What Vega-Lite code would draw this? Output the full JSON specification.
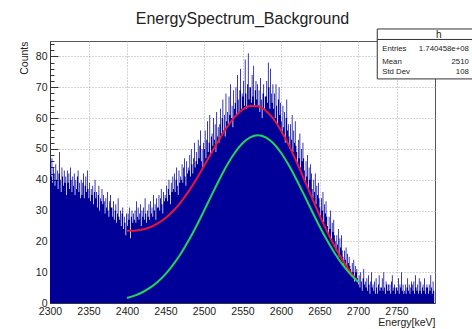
{
  "$schema": "https://vega.github.io/schema/vega-lite/v6.json",
  "width": 385,
  "height": 262,
  "autosize": {"type": "none"},
  "padding": {"left": 50, "top": 41, "right": 37, "bottom": 26},
  "title": {
    "text": "EnergySpectrum_Background",
    "font": "Liberation Sans",
    "fontSize": 16,
    "fontWeight": "normal",
    "color": "#222222",
    "anchor": "middle",
    "frame": "group",
    "offset": 1
  },
  "config": {
    "font": "Liberation Sans",
    "view": {"stroke": "#555555", "strokeWidth": 1},
    "axis": {
      "labelFont": "Liberation Sans",
      "titleFont": "Liberation Sans",
      "labelColor": "#222222",
      "titleColor": "#222222",
      "titleFontWeight": "normal",
      "labelFontSize": 10.5,
      "titleFontSize": 10.5,
      "domainColor": "#333333",
      "tickColor": "#333333",
      "gridColor": "#a8a8a8",
      "gridDash": [1, 2],
      "gridWidth": 1,
      "tickSize": -8,
      "labelPadding": 11,
      "labelOverlap": false,
      "titleAnchor": "end",
      "grid": true
    },
    "axisX": {"labelFlush": false, "titlePadding": 1, "format": "d"},
    "axisY": {"titlePadding": 6}
  },
  "datasets": {
    "spectrum": [
      {"keV":2300,"counts":46},{"keV":2301,"counts":41},{"keV":2302,"counts":47},{"keV":2303,"counts":39},{"keV":2304,"counts":44},{"keV":2305,"counts":42},{"keV":2306,"counts":38},{"keV":2307,"counts":45},{"keV":2308,"counts":40},{"keV":2309,"counts":43},
      {"keV":2310,"counts":37},{"keV":2311,"counts":42},{"keV":2312,"counts":49},{"keV":2313,"counts":40},{"keV":2314,"counts":36},{"keV":2315,"counts":44},{"keV":2316,"counts":41},{"keV":2317,"counts":38},{"keV":2318,"counts":43},{"keV":2319,"counts":39},
      {"keV":2320,"counts":41},{"keV":2321,"counts":35},{"keV":2322,"counts":43},{"keV":2323,"counts":39},{"keV":2324,"counts":42},{"keV":2325,"counts":37},{"keV":2326,"counts":44},{"keV":2327,"counts":40},{"keV":2328,"counts":36},{"keV":2329,"counts":41},
      {"keV":2330,"counts":38},{"keV":2331,"counts":42},{"keV":2332,"counts":35},{"keV":2333,"counts":40},{"keV":2334,"counts":37},{"keV":2335,"counts":41},{"keV":2336,"counts":43},{"keV":2337,"counts":36},{"keV":2338,"counts":39},{"keV":2339,"counts":34},
      {"keV":2340,"counts":40},{"keV":2341,"counts":35},{"keV":2342,"counts":39},{"keV":2343,"counts":42},{"keV":2344,"counts":34},{"keV":2345,"counts":38},{"keV":2346,"counts":41},{"keV":2347,"counts":36},{"keV":2348,"counts":43},{"keV":2349,"counts":37},
      {"keV":2350,"counts":34},{"keV":2351,"counts":39},{"keV":2352,"counts":33},{"keV":2353,"counts":37},{"keV":2354,"counts":35},{"keV":2355,"counts":38},{"keV":2356,"counts":32},{"keV":2357,"counts":36},{"keV":2358,"counts":40},{"keV":2359,"counts":34},
      {"keV":2360,"counts":36},{"keV":2361,"counts":31},{"keV":2362,"counts":35},{"keV":2363,"counts":38},{"keV":2364,"counts":30},{"keV":2365,"counts":34},{"keV":2366,"counts":33},{"keV":2367,"counts":37},{"keV":2368,"counts":32},{"keV":2369,"counts":35},
      {"keV":2370,"counts":33},{"keV":2371,"counts":29},{"keV":2372,"counts":34},{"keV":2373,"counts":31},{"keV":2374,"counts":36},{"keV":2375,"counts":30},{"keV":2376,"counts":28},{"keV":2377,"counts":33},{"keV":2378,"counts":35},{"keV":2379,"counts":31},
      {"keV":2380,"counts":31},{"keV":2381,"counts":28},{"keV":2382,"counts":33},{"keV":2383,"counts":27},{"keV":2384,"counts":30},{"keV":2385,"counts":32},{"keV":2386,"counts":26},{"keV":2387,"counts":29},{"keV":2388,"counts":34},{"keV":2389,"counts":28},
      {"keV":2390,"counts":27},{"keV":2391,"counts":30},{"keV":2392,"counts":25},{"keV":2393,"counts":29},{"keV":2394,"counts":31},{"keV":2395,"counts":24},{"keV":2396,"counts":28},{"keV":2397,"counts":26},{"keV":2398,"counts":22},{"keV":2399,"counts":29},
      {"keV":2400,"counts":25},{"keV":2401,"counts":29},{"keV":2402,"counts":27},{"keV":2403,"counts":31},{"keV":2404,"counts":21},{"keV":2405,"counts":28},{"keV":2406,"counts":30},{"keV":2407,"counts":26},{"keV":2408,"counts":29},{"keV":2409,"counts":27},
      {"keV":2410,"counts":30},{"keV":2411,"counts":26},{"keV":2412,"counts":33},{"keV":2413,"counts":28},{"keV":2414,"counts":31},{"keV":2415,"counts":27},{"keV":2416,"counts":29},{"keV":2417,"counts":32},{"keV":2418,"counts":25},{"keV":2419,"counts":30},
      {"keV":2420,"counts":28},{"keV":2421,"counts":31},{"keV":2422,"counts":27},{"keV":2423,"counts":34},{"keV":2424,"counts":29},{"keV":2425,"counts":26},{"keV":2426,"counts":30},{"keV":2427,"counts":28},{"keV":2428,"counts":32},{"keV":2429,"counts":27},
      {"keV":2430,"counts":33},{"keV":2431,"counts":29},{"keV":2432,"counts":31},{"keV":2433,"counts":28},{"keV":2434,"counts":35},{"keV":2435,"counts":30},{"keV":2436,"counts":32},{"keV":2437,"counts":27},{"keV":2438,"counts":34},{"keV":2439,"counts":31},
      {"keV":2440,"counts":31},{"keV":2441,"counts":35},{"keV":2442,"counts":30},{"keV":2443,"counts":34},{"keV":2444,"counts":37},{"keV":2445,"counts":32},{"keV":2446,"counts":29},{"keV":2447,"counts":36},{"keV":2448,"counts":33},{"keV":2449,"counts":35},
      {"keV":2450,"counts":34},{"keV":2451,"counts":38},{"keV":2452,"counts":33},{"keV":2453,"counts":37},{"keV":2454,"counts":40},{"keV":2455,"counts":35},{"keV":2456,"counts":32},{"keV":2457,"counts":39},{"keV":2458,"counts":36},{"keV":2459,"counts":41},
      {"keV":2460,"counts":37},{"keV":2461,"counts":42},{"keV":2462,"counts":36},{"keV":2463,"counts":40},{"keV":2464,"counts":44},{"keV":2465,"counts":38},{"keV":2466,"counts":35},{"keV":2467,"counts":43},{"keV":2468,"counts":39},{"keV":2469,"counts":41},
      {"keV":2470,"counts":40},{"keV":2471,"counts":45},{"keV":2472,"counts":39},{"keV":2473,"counts":44},{"keV":2474,"counts":47},{"keV":2475,"counts":41},{"keV":2476,"counts":38},{"keV":2477,"counts":46},{"keV":2478,"counts":42},{"keV":2479,"counts":44},
      {"keV":2480,"counts":43},{"keV":2481,"counts":48},{"keV":2482,"counts":41},{"keV":2483,"counts":50},{"keV":2484,"counts":45},{"keV":2485,"counts":42},{"keV":2486,"counts":47},{"keV":2487,"counts":52},{"keV":2488,"counts":44},{"keV":2489,"counts":46},
      {"keV":2490,"counts":49},{"keV":2491,"counts":45},{"keV":2492,"counts":53},{"keV":2493,"counts":47},{"keV":2494,"counts":51},{"keV":2495,"counts":56},{"keV":2496,"counts":46},{"keV":2497,"counts":50},{"keV":2498,"counts":44},{"keV":2499,"counts":52},
      {"keV":2500,"counts":50},{"keV":2501,"counts":56},{"keV":2502,"counts":47},{"keV":2503,"counts":53},{"keV":2504,"counts":59},{"keV":2505,"counts":49},{"keV":2506,"counts":52},{"keV":2507,"counts":61},{"keV":2508,"counts":48},{"keV":2509,"counts":54},
      {"keV":2510,"counts":55},{"keV":2511,"counts":51},{"keV":2512,"counts":60},{"keV":2513,"counts":53},{"keV":2514,"counts":58},{"keV":2515,"counts":49},{"keV":2516,"counts":62},{"keV":2517,"counts":54},{"keV":2518,"counts":57},{"keV":2519,"counts":52},
      {"keV":2520,"counts":58},{"keV":2521,"counts":63},{"keV":2522,"counts":55},{"keV":2523,"counts":60},{"keV":2524,"counts":66},{"keV":2525,"counts":56},{"keV":2526,"counts":61},{"keV":2527,"counts":54},{"keV":2528,"counts":68},{"keV":2529,"counts":59},
      {"keV":2530,"counts":62},{"keV":2531,"counts":58},{"keV":2532,"counts":67},{"keV":2533,"counts":61},{"keV":2534,"counts":71},{"keV":2535,"counts":60},{"keV":2536,"counts":64},{"keV":2537,"counts":57},{"keV":2538,"counts":69},{"keV":2539,"counts":63},
      {"keV":2540,"counts":65},{"keV":2541,"counts":70},{"keV":2542,"counts":61},{"keV":2543,"counts":74},{"keV":2544,"counts":66},{"keV":2545,"counts":62},{"keV":2546,"counts":69},{"keV":2547,"counts":76},{"keV":2548,"counts":63},{"keV":2549,"counts":68},
      {"keV":2550,"counts":67},{"keV":2551,"counts":72},{"keV":2552,"counts":64},{"keV":2553,"counts":79},{"keV":2554,"counts":68},{"keV":2555,"counts":63},{"keV":2556,"counts":71},{"keV":2557,"counts":81},{"keV":2558,"counts":66},{"keV":2559,"counts":70},
      {"keV":2560,"counts":70},{"keV":2561,"counts":65},{"keV":2562,"counts":74},{"keV":2563,"counts":67},{"keV":2564,"counts":77},{"keV":2565,"counts":64},{"keV":2566,"counts":69},{"keV":2567,"counts":72},{"keV":2568,"counts":66},{"keV":2569,"counts":71},
      {"keV":2570,"counts":64},{"keV":2571,"counts":69},{"keV":2572,"counts":62},{"keV":2573,"counts":73},{"keV":2574,"counts":66},{"keV":2575,"counts":60},{"keV":2576,"counts":68},{"keV":2577,"counts":71},{"keV":2578,"counts":63},{"keV":2579,"counts":67},
      {"keV":2580,"counts":67},{"keV":2581,"counts":72},{"keV":2582,"counts":65},{"keV":2583,"counts":78},{"keV":2584,"counts":70},{"keV":2585,"counts":63},{"keV":2586,"counts":76},{"keV":2587,"counts":68},{"keV":2588,"counts":65},{"keV":2589,"counts":71},
      {"keV":2590,"counts":63},{"keV":2591,"counts":68},{"keV":2592,"counts":60},{"keV":2593,"counts":71},{"keV":2594,"counts":64},{"keV":2595,"counts":58},{"keV":2596,"counts":66},{"keV":2597,"counts":70},{"keV":2598,"counts":61},{"keV":2599,"counts":65},
      {"keV":2600,"counts":59},{"keV":2601,"counts":55},{"keV":2602,"counts":64},{"keV":2603,"counts":57},{"keV":2604,"counts":62},{"keV":2605,"counts":52},{"keV":2606,"counts":60},{"keV":2607,"counts":66},{"keV":2608,"counts":56},{"keV":2609,"counts":58},
      {"keV":2610,"counts":54},{"keV":2611,"counts":50},{"keV":2612,"counts":58},{"keV":2613,"counts":53},{"keV":2614,"counts":61},{"keV":2615,"counts":49},{"keV":2616,"counts":56},{"keV":2617,"counts":52},{"keV":2618,"counts":59},{"keV":2619,"counts":51},
      {"keV":2620,"counts":49},{"keV":2621,"counts":45},{"keV":2622,"counts":53},{"keV":2623,"counts":47},{"keV":2624,"counts":55},{"keV":2625,"counts":44},{"keV":2626,"counts":50},{"keV":2627,"counts":46},{"keV":2628,"counts":52},{"keV":2629,"counts":47},
      {"keV":2630,"counts":43},{"keV":2631,"counts":39},{"keV":2632,"counts":46},{"keV":2633,"counts":41},{"keV":2634,"counts":48},{"keV":2635,"counts":37},{"keV":2636,"counts":44},{"keV":2637,"counts":40},{"keV":2638,"counts":45},{"keV":2639,"counts":42},
      {"keV":2640,"counts":37},{"keV":2641,"counts":34},{"keV":2642,"counts":40},{"keV":2643,"counts":36},{"keV":2644,"counts":42},{"keV":2645,"counts":32},{"keV":2646,"counts":38},{"keV":2647,"counts":35},{"keV":2648,"counts":39},{"keV":2649,"counts":34},
      {"keV":2650,"counts":31},{"keV":2651,"counts":28},{"keV":2652,"counts":34},{"keV":2653,"counts":30},{"keV":2654,"counts":36},{"keV":2655,"counts":26},{"keV":2656,"counts":32},{"keV":2657,"counts":29},{"keV":2658,"counts":33},{"keV":2659,"counts":28},
      {"keV":2660,"counts":25},{"keV":2661,"counts":22},{"keV":2662,"counts":28},{"keV":2663,"counts":24},{"keV":2664,"counts":30},{"keV":2665,"counts":20},{"keV":2666,"counts":26},{"keV":2667,"counts":23},{"keV":2668,"counts":27},{"keV":2669,"counts":22},
      {"keV":2670,"counts":20},{"keV":2671,"counts":17},{"keV":2672,"counts":22},{"keV":2673,"counts":19},{"keV":2674,"counts":24},{"keV":2675,"counts":15},{"keV":2676,"counts":21},{"keV":2677,"counts":18},{"keV":2678,"counts":22},{"keV":2679,"counts":17},
      {"keV":2680,"counts":15},{"keV":2681,"counts":12},{"keV":2682,"counts":17},{"keV":2683,"counts":14},{"keV":2684,"counts":18},{"keV":2685,"counts":11},{"keV":2686,"counts":16},{"keV":2687,"counts":13},{"keV":2688,"counts":15},{"keV":2689,"counts":12},
      {"keV":2690,"counts":11},{"keV":2691,"counts":9},{"keV":2692,"counts":13},{"keV":2693,"counts":10},{"keV":2694,"counts":14},{"keV":2695,"counts":7},{"keV":2696,"counts":12},{"keV":2697,"counts":10},{"keV":2698,"counts":11},{"keV":2699,"counts":8},
      {"keV":2700,"counts":6},{"keV":2701,"counts":9},{"keV":2702,"counts":5},{"keV":2703,"counts":10},{"keV":2704,"counts":7},{"keV":2705,"counts":4},{"keV":2706,"counts":8},{"keV":2707,"counts":11},{"keV":2708,"counts":6},{"keV":2709,"counts":7},
      {"keV":2710,"counts":5},{"keV":2711,"counts":8},{"keV":2712,"counts":4},{"keV":2713,"counts":9},{"keV":2714,"counts":6},{"keV":2715,"counts":3},{"keV":2716,"counts":7},{"keV":2717,"counts":10},{"keV":2718,"counts":5},{"keV":2719,"counts":6},
      {"keV":2720,"counts":4},{"keV":2721,"counts":7},{"keV":2722,"counts":3},{"keV":2723,"counts":8},{"keV":2724,"counts":5},{"keV":2725,"counts":3},{"keV":2726,"counts":6},{"keV":2727,"counts":9},{"keV":2728,"counts":4},{"keV":2729,"counts":5},
      {"keV":2730,"counts":5},{"keV":2731,"counts":8},{"keV":2732,"counts":4},{"keV":2733,"counts":10},{"keV":2734,"counts":5},{"keV":2735,"counts":3},{"keV":2736,"counts":7},{"keV":2737,"counts":6},{"keV":2738,"counts":4},{"keV":2739,"counts":6},
      {"keV":2740,"counts":4},{"keV":2741,"counts":6},{"keV":2742,"counts":3},{"keV":2743,"counts":7},{"keV":2744,"counts":9},{"keV":2745,"counts":4},{"keV":2746,"counts":5},{"keV":2747,"counts":6},{"keV":2748,"counts":3},{"keV":2749,"counts":5},
      {"keV":2750,"counts":5},{"keV":2751,"counts":4},{"keV":2752,"counts":8},{"keV":2753,"counts":3},{"keV":2754,"counts":6},{"keV":2755,"counts":5},{"keV":2756,"counts":10},{"keV":2757,"counts":4},{"keV":2758,"counts":6},{"keV":2759,"counts":3},
      {"keV":2760,"counts":4},{"keV":2761,"counts":6},{"keV":2762,"counts":3},{"keV":2763,"counts":5},{"keV":2764,"counts":8},{"keV":2765,"counts":4},{"keV":2766,"counts":6},{"keV":2767,"counts":3},{"keV":2768,"counts":5},{"keV":2769,"counts":7},
      {"keV":2770,"counts":6},{"keV":2771,"counts":4},{"keV":2772,"counts":7},{"keV":2773,"counts":3},{"keV":2774,"counts":9},{"keV":2775,"counts":5},{"keV":2776,"counts":4},{"keV":2777,"counts":6},{"keV":2778,"counts":3},{"keV":2779,"counts":8},
      {"keV":2780,"counts":4},{"keV":2781,"counts":7},{"keV":2782,"counts":3},{"keV":2783,"counts":5},{"keV":2784,"counts":6},{"keV":2785,"counts":4},{"keV":2786,"counts":8},{"keV":2787,"counts":3},{"keV":2788,"counts":5},{"keV":2789,"counts":6},
      {"keV":2790,"counts":5},{"keV":2791,"counts":3},{"keV":2792,"counts":6},{"keV":2793,"counts":4},{"keV":2794,"counts":9},{"keV":2795,"counts":5},{"keV":2796,"counts":3},{"keV":2797,"counts":7},{"keV":2798,"counts":4},{"keV":2799,"counts":6}
    ],
    "fit": [
      {"keV":2400,"total":23.40,"gauss":1.60},{"keV":2410,"total":23.46,"gauss":2.39},{"keV":2420,"total":23.84,"gauss":3.49},
      {"keV":2430,"total":24.59,"gauss":4.97},{"keV":2440,"total":25.80,"gauss":6.91},{"keV":2450,"total":27.55,"gauss":9.38},
      {"keV":2460,"total":29.86,"gauss":12.42},{"keV":2470,"total":32.76,"gauss":16.05},{"keV":2480,"total":36.22,"gauss":20.24},
      {"keV":2490,"total":40.16,"gauss":24.90},{"keV":2500,"total":44.45,"gauss":29.92},{"keV":2510,"total":48.86,"gauss":35.06},
      {"keV":2520,"total":53.17,"gauss":40.09},{"keV":2530,"total":57.10,"gauss":44.75},{"keV":2540,"total":60.36,"gauss":48.74},
      {"keV":2550,"total":62.71,"gauss":51.81},{"keV":2560,"total":63.91,"gauss":53.74},{"keV":2570,"total":63.84,"gauss":54.40},
      {"keV":2580,"total":62.46,"gauss":53.74},{"keV":2590,"total":59.80,"gauss":51.81},{"keV":2600,"total":56.00,"gauss":48.74},
      {"keV":2610,"total":51.29,"gauss":44.75},{"keV":2620,"total":45.90,"gauss":40.09},{"keV":2630,"total":40.14,"gauss":35.06},
      {"keV":2640,"total":34.28,"gauss":29.92},{"keV":2650,"total":28.53,"gauss":24.90},{"keV":2660,"total":23.14,"gauss":20.24},
      {"keV":2670,"total":18.23,"gauss":16.05},{"keV":2680,"total":13.87,"gauss":12.42},{"keV":2690,"total":10.11,"gauss":9.38},
      {"keV":2700,"total":6.91,"gauss":6.91}
    ],
    "stats": [
      {"stat": "Entries", "value": "1.740458e+08"},
      {"stat": "Mean", "value": "2510"},
      {"stat": "Std Dev", "value": "108"}
    ],
    "header": [
      {"name": "h"}
    ]
  },
  "layer": [
    {
      "layer": [
        {
          "data": {"name": "spectrum"},
          "mark": {"type": "area", "interpolate": "step-after", "color": "#000099", "clip": true},
          "encoding": {
            "x": {
              "field": "keV", "type": "quantitative",
              "scale": {"domain": [2300, 2800], "nice": false, "zero": false},
              "axis": {"values": [2300, 2350, 2400, 2450, 2500, 2550, 2600, 2650, 2700, 2750], "title": "Energy[keV]"}
            },
            "y": {
              "field": "counts", "type": "quantitative",
              "scale": {"domain": [0, 85], "nice": false},
              "axis": {"values": [0, 10, 20, 30, 40, 50, 60, 70, 80], "title": "Counts"}
            }
          }
        },
        {
          "data": {"name": "fit"},
          "mark": {"type": "line", "color": "#e8163a", "strokeWidth": 2, "interpolate": "monotone"},
          "encoding": {
            "x": {"field": "keV", "type": "quantitative", "axis": {"values": [2300, 2350, 2400, 2450, 2500, 2550, 2600, 2650, 2700, 2750], "title": "Energy[keV]"}},
            "y": {"field": "total", "type": "quantitative", "axis": {"values": [0, 10, 20, 30, 40, 50, 60, 70, 80], "title": "Counts"}}
          }
        },
        {
          "data": {"name": "fit"},
          "mark": {"type": "line", "color": "#22d655", "strokeWidth": 2, "interpolate": "monotone"},
          "encoding": {
            "x": {"field": "keV", "type": "quantitative", "axis": {"values": [2300, 2350, 2400, 2450, 2500, 2550, 2600, 2650, 2700, 2750], "title": "Energy[keV]"}},
            "y": {"field": "gauss", "type": "quantitative", "axis": {"values": [0, 10, 20, 30, 40, 50, 60, 70, 80], "title": "Counts"}}
          }
        },
        {
          "data": {"name": "header"},
          "mark": {"type": "rect", "fill": "#ffffff", "stroke": "#333333", "strokeWidth": 1, "clip": false},
          "encoding": {
            "x": {"datum": 2725, "type": "quantitative", "axis": {"values": [2300, 2350, 2400, 2450, 2500, 2550, 2600, 2650, 2700, 2750], "title": "Energy[keV]"}},
            "x2": {"datum": 2870},
            "y": {"datum": 88.9, "type": "quantitative", "axis": {"values": [0, 10, 20, 30, 40, 50, 60, 70, 80], "title": "Counts"}},
            "y2": {"datum": 72.7}
          }
        },
        {
          "data": {"name": "header"},
          "mark": {"type": "rule", "stroke": "#333333", "strokeWidth": 1, "clip": false},
          "encoding": {
            "x": {"datum": 2725, "type": "quantitative", "axis": {"values": [2300, 2350, 2400, 2450, 2500, 2550, 2600, 2650, 2700, 2750], "title": "Energy[keV]"}},
            "x2": {"datum": 2870},
            "y": {"datum": 85.5, "type": "quantitative", "axis": {"values": [0, 10, 20, 30, 40, 50, 60, 70, 80], "title": "Counts"}}
          }
        },
        {
          "data": {"name": "header"},
          "mark": {"type": "text", "align": "center", "baseline": "middle", "fontSize": 10, "color": "#222222", "clip": false},
          "encoding": {
            "x": {"datum": 2805, "type": "quantitative", "axis": {"values": [2300, 2350, 2400, 2450, 2500, 2550, 2600, 2650, 2700, 2750], "title": "Energy[keV]"}},
            "y": {"datum": 87.1, "type": "quantitative", "axis": {"values": [0, 10, 20, 30, 40, 50, 60, 70, 80], "title": "Counts"}},
            "text": {"field": "name"}
          }
        },
        {
          "data": {"name": "stats"},
          "transform": [{"filter": "datum.stat === 'Entries'"}],
          "mark": {"type": "text", "align": "left", "baseline": "middle", "fontSize": 7.8, "color": "#222222", "clip": false},
          "encoding": {
            "x": {"datum": 2731.5, "type": "quantitative", "axis": {"values": [2300, 2350, 2400, 2450, 2500, 2550, 2600, 2650, 2700, 2750], "title": "Energy[keV]"}},
            "y": {"datum": 82.3, "type": "quantitative", "axis": {"values": [0, 10, 20, 30, 40, 50, 60, 70, 80], "title": "Counts"}},
            "text": {"field": "stat"}
          }
        },
        {
          "data": {"name": "stats"},
          "transform": [{"filter": "datum.stat === 'Entries'"}],
          "mark": {"type": "text", "align": "right", "baseline": "middle", "fontSize": 7.8, "color": "#222222", "clip": false},
          "encoding": {
            "x": {"datum": 2844, "type": "quantitative", "axis": {"values": [2300, 2350, 2400, 2450, 2500, 2550, 2600, 2650, 2700, 2750], "title": "Energy[keV]"}},
            "y": {"datum": 82.3, "type": "quantitative", "axis": {"values": [0, 10, 20, 30, 40, 50, 60, 70, 80], "title": "Counts"}},
            "text": {"field": "value"}
          }
        },
        {
          "data": {"name": "stats"},
          "transform": [{"filter": "datum.stat === 'Mean'"}],
          "mark": {"type": "text", "align": "left", "baseline": "middle", "fontSize": 7.8, "color": "#222222", "clip": false},
          "encoding": {
            "x": {"datum": 2731.5, "type": "quantitative", "axis": {"values": [2300, 2350, 2400, 2450, 2500, 2550, 2600, 2650, 2700, 2750], "title": "Energy[keV]"}},
            "y": {"datum": 78.3, "type": "quantitative", "axis": {"values": [0, 10, 20, 30, 40, 50, 60, 70, 80], "title": "Counts"}},
            "text": {"field": "stat"}
          }
        },
        {
          "data": {"name": "stats"},
          "transform": [{"filter": "datum.stat === 'Mean'"}],
          "mark": {"type": "text", "align": "right", "baseline": "middle", "fontSize": 7.8, "color": "#222222", "clip": false},
          "encoding": {
            "x": {"datum": 2844, "type": "quantitative", "axis": {"values": [2300, 2350, 2400, 2450, 2500, 2550, 2600, 2650, 2700, 2750], "title": "Energy[keV]"}},
            "y": {"datum": 78.3, "type": "quantitative", "axis": {"values": [0, 10, 20, 30, 40, 50, 60, 70, 80], "title": "Counts"}},
            "text": {"field": "value"}
          }
        },
        {
          "data": {"name": "stats"},
          "transform": [{"filter": "datum.stat === 'Std Dev'"}],
          "mark": {"type": "text", "align": "left", "baseline": "middle", "fontSize": 7.8, "color": "#222222", "clip": false},
          "encoding": {
            "x": {"datum": 2731.5, "type": "quantitative", "axis": {"values": [2300, 2350, 2400, 2450, 2500, 2550, 2600, 2650, 2700, 2750], "title": "Energy[keV]"}},
            "y": {"datum": 74.9, "type": "quantitative", "axis": {"values": [0, 10, 20, 30, 40, 50, 60, 70, 80], "title": "Counts"}},
            "text": {"field": "stat"}
          }
        },
        {
          "data": {"name": "stats"},
          "transform": [{"filter": "datum.stat === 'Std Dev'"}],
          "mark": {"type": "text", "align": "right", "baseline": "middle", "fontSize": 7.8, "color": "#222222", "clip": false},
          "encoding": {
            "x": {"datum": 2844, "type": "quantitative", "axis": {"values": [2300, 2350, 2400, 2450, 2500, 2550, 2600, 2650, 2700, 2750], "title": "Energy[keV]"}},
            "y": {"datum": 74.9, "type": "quantitative", "axis": {"values": [0, 10, 20, 30, 40, 50, 60, 70, 80], "title": "Counts"}},
            "text": {"field": "value"}
          }
        }
      ]
    },
    {
      "data": {"name": "header"},
      "mark": {"type": "rule", "opacity": 0},
      "encoding": {
        "y": {
          "datum": 0, "type": "quantitative",
          "axis": {
            "orient": "left",
            "values": [2, 4, 6, 8, 12, 14, 16, 18, 22, 24, 26, 28, 32, 34, 36, 38, 42, 44, 46, 48, 52, 54, 56, 58, 62, 64, 66, 68, 72, 74, 76, 78, 82, 84],
            "tickSize": -4, "labels": false, "domain": false, "grid": false, "title": null
          }
        }
      }
    }
  ],
  "resolve": {"axis": {"y": "independent"}}
}
